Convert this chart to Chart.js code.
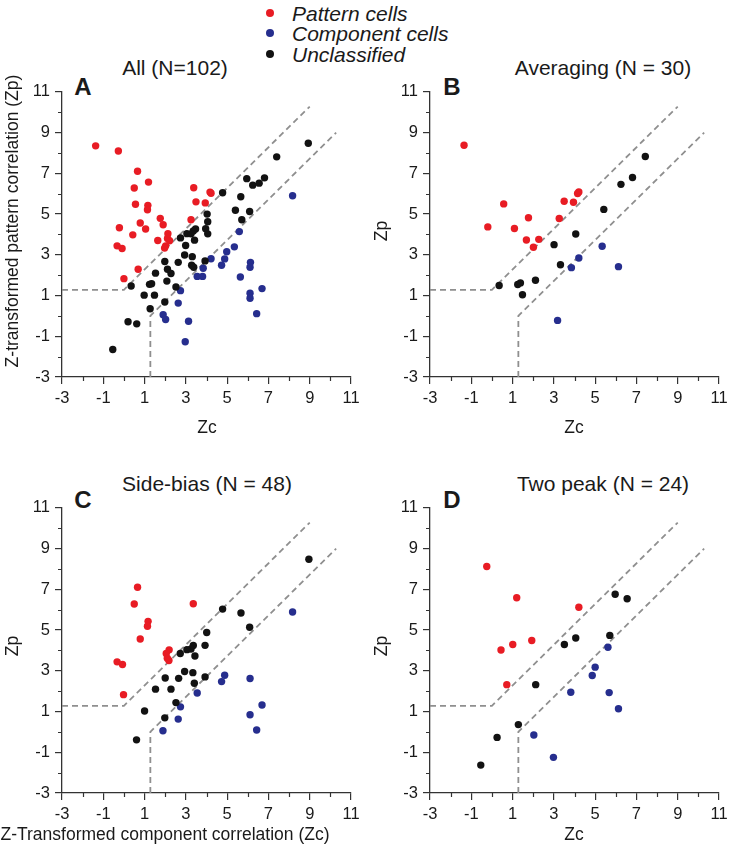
<!DOCTYPE html>
<html>
<head>
<meta charset="utf-8">
<script src="https://cdn.jsdelivr.net/npm/chart.js@4.4.1/dist/chart.umd.min.js"></script>
<style>
  body { margin: 0; background: #fff; width: 730px; height: 853px; position: relative; overflow: hidden;
         font-family: 'Liberation Sans', Arial, sans-serif; color: #1a1a1a; }
  .panel { position: absolute; }
  .t { position: absolute; white-space: nowrap; line-height: 1; transform: translate(-50%, -50%); }
  .ttl { font-size: 21px; }
  .let { font-size: 24px; font-weight: bold; }
  .ax { font-size: 17.5px; }
  .rot { transform: translate(-50%, -50%) rotate(-90deg); }
  .leg { position: absolute; left: 292px; font-size: 21px; font-style: italic; line-height: 1; transform: translateY(-50%); white-space: nowrap; }
  .dot { position: absolute; width: 8px; height: 8px; border-radius: 50%; transform: translate(-50%, -50%); }
</style>
</head>
<body>

<!-- legend -->
<div class="dot" style="left:270px; top:13px; background:#e81c24"></div>
<div class="leg" style="top:13px">Pattern cells</div>
<div class="dot" style="left:270px; top:33px; background:#262e8e"></div>
<div class="leg" style="top:33px">Component cells</div>
<div class="dot" style="left:270px; top:54px; background:#121212"></div>
<div class="leg" style="top:54px">Unclassified</div>

<!-- panel titles -->
<div class="t ttl" style="left:175px; top:67px">All (N=102)</div>
<div class="t ttl" style="left:603px; top:67px">Averaging (N = 30)</div>
<div class="t ttl" style="left:207px; top:483px">Side-bias (N = 48)</div>
<div class="t ttl" style="left:603px; top:483px">Two peak (N = 24)</div>

<!-- panel letters -->
<div class="t let" style="left:83px; top:87px">A</div>
<div class="t let" style="left:452px; top:87px">B</div>
<div class="t let" style="left:83px; top:500px">C</div>
<div class="t let" style="left:452px; top:500px">D</div>

<div class="panel" style="left:0; top:77px"><canvas id="cA" width="365" height="342"></canvas></div>
<div class="panel" style="left:368px; top:77px"><canvas id="cB" width="365" height="342"></canvas></div>
<div class="panel" style="left:0; top:493px"><canvas id="cC" width="365" height="342"></canvas></div>
<div class="panel" style="left:368px; top:493px"><canvas id="cD" width="365" height="342"></canvas></div>

<!-- axis titles -->
<div class="t ax rot" style="left:13px; top:221px">Z-transformed pattern correlation (Zp)</div>
<div class="t ax rot" style="left:382px; top:231px">Zp</div>
<div class="t ax rot" style="left:13px; top:646px">Zp</div>
<div class="t ax rot" style="left:382px; top:646px">Zp</div>
<div class="t ax" style="left:207px; top:428px">Zc</div>
<div class="t ax" style="left:574px; top:428px">Zc</div>
<div class="t ax" style="left:165px; top:835px">Z-Transformed component correlation (Zc)</div>
<div class="t ax" style="left:574px; top:835px">Zc</div>

<script>
// axis range and tick values
const axisMin = -3, axisMax = 11;
const minorTickValues = [-2, 0, 2, 4, 6, 8, 10];

// classification criterion lines (Zp - Zc = 1.28 and Zc - Zp = 1.28)
const upperZc = [-3, 0, 9];
const upperZp = [1.28, 1.28, 10.28];
const lowerZc = [1.28, 1.28, 10.28];
const lowerZp = [-3, 0, 9];

// A: All (N=102)   [Zc, Zp]
const allPattern = [[-1.37, 8.35], [-0.27, 8.10], [0.66, 7.10], [0.50, 6.28], [1.19, 6.57], [0.56, 5.48],
  [1.16, 5.43], [1.14, 5.21], [0.79, 4.56], [1.05, 4.27], [-0.22, 4.33], [0.43, 3.98], [-0.33, 3.44],
  [-0.09, 3.31], [0.69, 2.29], [0.00, 1.83], [1.76, 4.79], [1.90, 4.48], [2.13, 4.04], [1.64, 3.70],
  [2.11, 3.80], [2.21, 3.69], [2.02, 3.44], [1.97, 3.33], [3.25, 4.72], [3.38, 6.29], [3.49, 5.60],
  [3.94, 5.55], [4.17, 6.08], [4.22, 6.02]];
const allComponent = [[8.17, 5.90], [5.59, 4.14], [5.35, 3.39], [4.98, 3.15], [4.88, 2.80], [4.73, 2.49],
  [4.22, 2.81], [3.84, 2.34], [3.81, 1.94], [3.55, 1.94], [6.13, 2.63], [6.11, 2.39], [5.64, 1.91],
  [6.69, 1.34], [6.11, 1.11], [6.11, 0.87], [6.43, 0.11], [2.74, 1.24], [2.63, 0.63], [1.90, 0.06],
  [2.02, -0.18], [3.13, -0.26], [2.97, -1.27]];
const allUnclassified = [[8.93, 8.48], [7.40, 7.81], [5.95, 6.74], [6.81, 6.78], [6.55, 6.52], [6.24, 6.42],
  [4.78, 6.05], [5.66, 5.85], [5.40, 5.19], [6.09, 5.13], [5.71, 4.72], [4.03, 5.00], [4.06, 4.62],
  [3.96, 4.28], [4.06, 4.03], [3.47, 4.27], [3.36, 4.17], [3.05, 4.04], [2.74, 3.83], [3.25, 4.03],
  [3.42, 3.72], [2.99, 3.46], [2.94, 2.99], [3.31, 2.91], [3.93, 2.70], [3.28, 2.49], [3.38, 2.39],
  [2.63, 2.63], [1.98, 2.67], [2.11, 2.29], [2.28, 2.08], [1.53, 2.10], [2.08, 1.71], [2.52, 1.42],
  [1.24, 1.55], [1.34, 1.58], [0.35, 1.47], [0.98, 1.02], [1.48, 1.02], [1.98, 0.68], [1.27, 0.35],
  [0.20, -0.29], [0.62, -0.39], [-0.54, -1.65]];

// B: Averaging (N = 30)
const avgPattern = [[-1.35, 8.38], [0.57, 5.50], [-0.20, 4.37], [1.09, 4.29], [1.77, 4.82], [1.67, 3.73],
  [2.27, 3.76], [2.01, 3.37], [3.26, 4.78], [3.50, 5.63], [3.95, 5.58], [4.21, 6.09], [4.15, 6.01]];
const avgComponent = [[5.34, 3.42], [4.21, 2.84], [3.85, 2.37], [6.13, 2.42], [3.18, -0.22]];
const avgUnclassified = [[7.43, 7.83], [6.81, 6.80], [6.25, 6.46], [5.42, 5.23], [4.06, 4.02], [3.01, 3.50],
  [3.32, 2.51], [0.35, 1.49], [1.25, 1.54], [1.38, 1.62], [2.11, 1.75], [1.48, 1.04]];

// C: Side-bias (N = 48)
const sidePattern = [[0.66, 7.10], [0.50, 6.28], [3.36, 6.29], [1.17, 5.43], [1.14, 5.19], [0.79, 4.56],
  [2.19, 4.03], [2.05, 3.85], [2.10, 3.62], [2.18, 3.51], [-0.33, 3.44], [-0.07, 3.31], [-0.02, 1.83]];
const sideComponent = [[8.17, 5.89], [4.88, 2.78], [4.73, 2.47], [6.11, 2.62], [3.55, 1.91], [2.74, 1.23],
  [6.69, 1.32], [6.11, 0.84], [6.43, 0.09], [2.63, 0.63], [1.89, 0.06]];
const sideUnclassified = [[8.96, 8.48], [4.78, 6.03], [5.67, 5.84], [6.09, 5.14], [4.01, 4.88], [3.93, 4.25],
  [3.36, 4.24], [3.25, 4.07], [3.05, 4.04], [2.73, 3.85], [3.44, 3.73], [2.94, 2.97], [3.34, 2.91],
  [3.93, 2.70], [3.41, 2.39], [2.65, 2.63], [2.00, 2.65], [1.53, 2.10], [2.28, 2.10], [2.52, 1.44],
  [1.00, 1.03], [1.98, 0.69], [0.61, -0.39]];

// D: Two peak (N = 24)
const twoPattern = [[-0.25, 8.12], [1.20, 6.59], [4.21, 6.12], [0.44, 4.02], [1.01, 4.29], [1.93, 4.49],
  [0.72, 2.32]];
const twoComponent = [[5.62, 4.16], [5.00, 3.18], [4.86, 2.77], [3.82, 1.95], [5.68, 1.93], [6.13, 1.14],
  [2.03, -0.15], [2.98, -1.25]];
const twoUnclassified = [[5.97, 6.76], [6.55, 6.54], [5.71, 4.74], [4.06, 4.61], [3.51, 4.29], [2.12, 2.32],
  [1.28, 0.36], [0.25, -0.27], [-0.54, -1.63]];

const RED = '#e81c24', BLUE = '#262e8e', BLACK = '#121212', GRAY = '#8f8f8f', AXIS = '#333';
const FONT = "'Liberation Sans', Arial, sans-serif";

const toXY = arr => arr.map(([x, y]) => ({ x, y }));
const zipXY = (xs, ys) => xs.map((x, i) => ({ x, y: ys[i] }));

// short unlabeled ticks between the labeled ones
const minorTicks = {
    id: 'minorTicks',
    afterDraw(chart) {
        const { ctx, scales: { x, y } } = chart;
        ctx.save();
        ctx.strokeStyle = AXIS;
        ctx.lineWidth = 1.2;
        ctx.beginPath();
        for (const v of minorTickValues) {
            const px = Math.round(x.getPixelForValue(v)) + 0.5;
            const py = Math.round(y.getPixelForValue(v)) + 0.5;
            ctx.moveTo(px, x.top);
            ctx.lineTo(px, x.top + 4);
            ctx.moveTo(y.right, py);
            ctx.lineTo(y.right - 4, py);
        }
        ctx.stroke();
        ctx.restore();
    }
};

function axis(dir) {
    return {
        type: 'linear',
        min: axisMin,
        max: axisMax,
        afterFit: s => { if (dir === 'x') s.height = 42; else s.width = 62; },
        ticks: { stepSize: 2, autoSkip: false, maxRotation: 0, padding: 5, color: '#1a1a1a',
                 font: { family: FONT, size: 16.5 } },
        grid: { drawOnChartArea: false, drawTicks: true, tickLength: 7, color: AXIS, lineWidth: 1.2 },
        border: { display: true, color: AXIS, width: 1.3 }
    };
}

function scatterSet(arr, color) {
    return { data: toXY(arr), backgroundColor: color, borderWidth: 0, pointRadius: 3.7, order: 1 };
}

function lineSet(xs, ys) {
    return { data: zipXY(xs, ys), showLine: true, borderColor: GRAY, borderWidth: 1.8,
             borderDash: [6, 4], pointRadius: 0, fill: false, order: 5 };
}

function makePanel(id, pattern, component, uncl) {
    new Chart(document.getElementById(id), {
        type: 'scatter',
        data: {
            datasets: [
                lineSet(upperZc, upperZp),
                lineSet(lowerZc, lowerZp),
                scatterSet(uncl, BLACK),
                scatterSet(component, BLUE),
                scatterSet(pattern, RED)
            ]
        },
        options: {
            responsive: false,
            animation: false,
            layout: { padding: { top: 12, right: 14, left: 0, bottom: 0 } },
            plugins: { legend: { display: false }, tooltip: { enabled: false } },
            scales: { x: axis('x'), y: axis('y') }
        },
        plugins: [minorTicks]
    });
}

makePanel('cA', allPattern, allComponent, allUnclassified);
makePanel('cB', avgPattern, avgComponent, avgUnclassified);
makePanel('cC', sidePattern, sideComponent, sideUnclassified);
makePanel('cD', twoPattern, twoComponent, twoUnclassified);
</script>
</body>
</html>
